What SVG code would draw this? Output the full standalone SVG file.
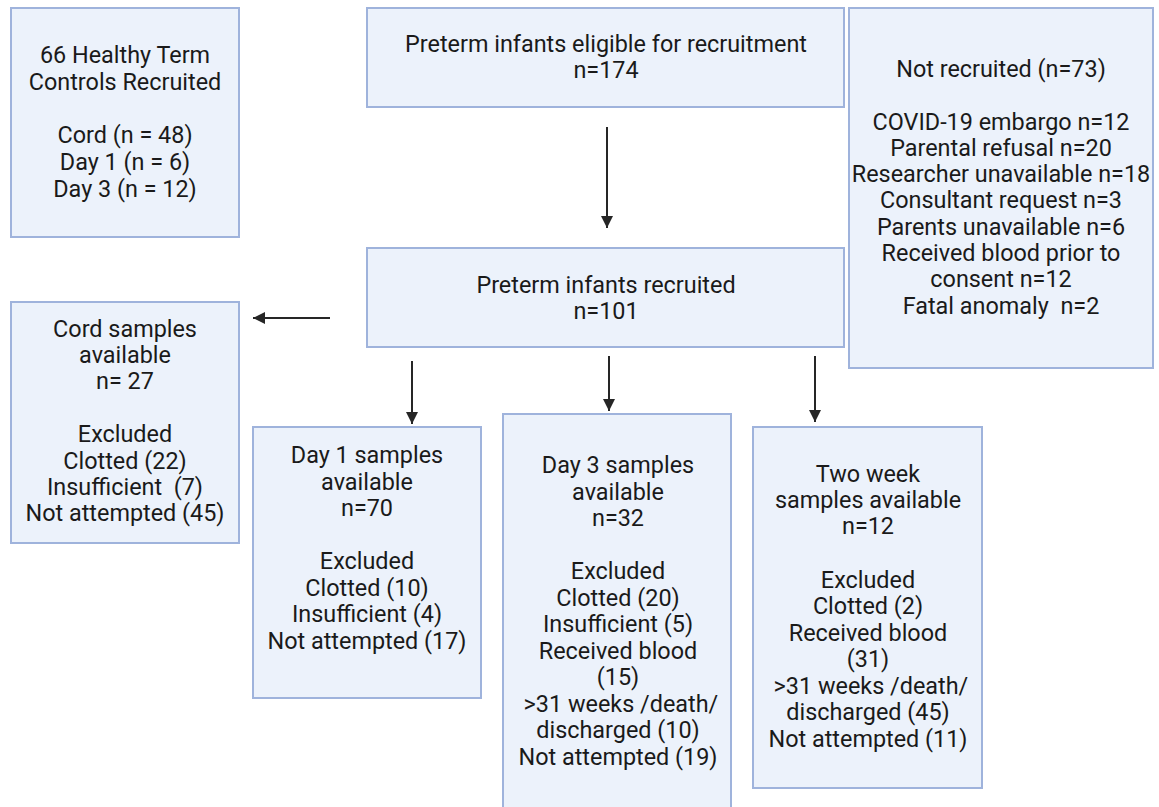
<svg xmlns="http://www.w3.org/2000/svg" width="1159" height="807" viewBox="0 0 1159 807">
<style>
.box{fill:#ecf2fb;stroke:#9fb3dc;stroke-width:2}
text{font-family:Roboto,"Liberation Sans",sans-serif;font-size:23.4px;fill:#1a1a1a;text-anchor:middle;white-space:pre}
.conn{stroke:#262626;stroke-width:2;fill:none}
</style>
<defs>
<marker id="ah" viewBox="0 0 10 10" refX="10" refY="5" markerWidth="6" markerHeight="6" markerUnits="strokeWidth" orient="auto">
<path d="M0,0 L10,5 L0,10 z" fill="#262626"/>
</marker>
</defs>
<rect width="1159" height="807" fill="#ffffff"/>
<g id="connectors">
<line class="conn" x1="607" y1="127" x2="607" y2="228" marker-end="url(#ah)"/>
<line class="conn" x1="330" y1="318" x2="253" y2="318" marker-end="url(#ah)"/>
<line class="conn" x1="412" y1="361" x2="412" y2="424" marker-end="url(#ah)"/>
<line class="conn" x1="609" y1="356" x2="609" y2="411" marker-end="url(#ah)"/>
<line class="conn" x1="815" y1="356" x2="815" y2="422" marker-end="url(#ah)"/>
</g>
<g id="controls">
<rect class="box" x="11" y="8" width="228" height="229"/>
<text x="125" y="63">66 Healthy Term</text>
<text x="125" y="90">Controls Recruited</text>
<text x="125" y="143">Cord (n = 48)</text>
<text x="125" y="170">Day 1 (n = 6)</text>
<text x="125" y="197">Day 3 (n = 12)</text>
</g>
<g id="eligible">
<rect class="box" x="367" y="8" width="477" height="99"/>
<text x="606" y="52">Preterm infants eligible for recruitment</text>
<text x="606" y="78">n=174</text>
</g>
<g id="not-recruited">
<rect class="box" x="849" y="8" width="304" height="360"/>
<text x="1001" y="77">Not recruited (n=73)</text>
<text x="1001" y="130">COVID-19 embargo n=12</text>
<text x="1001" y="156">Parental refusal n=20</text>
<text x="1001" y="182">Researcher unavailable n=18</text>
<text x="1001" y="208">Consultant request n=3</text>
<text x="1001" y="235">Parents unavailable n=6</text>
<text x="1001" y="261">Received blood prior to</text>
<text x="1001" y="287">consent n=12</text>
<text x="1001" y="314">Fatal anomaly  n=2</text>
</g>
<g id="recruited">
<rect class="box" x="367" y="248" width="477" height="99"/>
<text x="606" y="293">Preterm infants recruited</text>
<text x="606" y="319">n=101</text>
</g>
<g id="cord">
<rect class="box" x="11" y="302" width="228" height="241"/>
<text x="125" y="337">Cord samples</text>
<text x="125" y="363">available</text>
<text x="125" y="389">n= 27</text>
<text x="125" y="442">Excluded</text>
<text x="125" y="469">Clotted (22)</text>
<text x="125" y="495">Insufficient  (7)</text>
<text x="125" y="521">Not attempted (45)</text>
</g>
<g id="day1">
<rect class="box" x="253" y="427" width="228" height="271"/>
<text x="367" y="463">Day 1 samples</text>
<text x="367" y="490">available</text>
<text x="367" y="516">n=70</text>
<text x="367" y="569">Excluded</text>
<text x="367" y="596">Clotted (10)</text>
<text x="367" y="622">Insufficient (4)</text>
<text x="367" y="649">Not attempted (17)</text>
</g>
<g id="day3">
<rect class="box" x="503" y="414" width="228" height="400"/>
<text x="618" y="473">Day 3 samples</text>
<text x="618" y="500">available</text>
<text x="618" y="526">n=32</text>
<text x="618" y="579">Excluded</text>
<text x="618" y="606">Clotted (20)</text>
<text x="618" y="632">Insufficient (5)</text>
<text x="618" y="659">Received blood</text>
<text x="618" y="685">(15)</text>
<text x="618" y="712"> &gt;31 weeks /death/</text>
<text x="618" y="738">discharged (10)</text>
<text x="618" y="765">Not attempted (19)</text>
</g>
<g id="two-week">
<rect class="box" x="753" y="427" width="229" height="361"/>
<text x="868" y="482">Two week</text>
<text x="868" y="508">samples available</text>
<text x="868" y="534">n=12</text>
<text x="868" y="588">Excluded</text>
<text x="868" y="614">Clotted (2)</text>
<text x="868" y="641">Received blood</text>
<text x="868" y="667">(31)</text>
<text x="868" y="694"> &gt;31 weeks /death/</text>
<text x="868" y="720">discharged (45)</text>
<text x="868" y="747">Not attempted (11)</text>
</g>
</svg>
